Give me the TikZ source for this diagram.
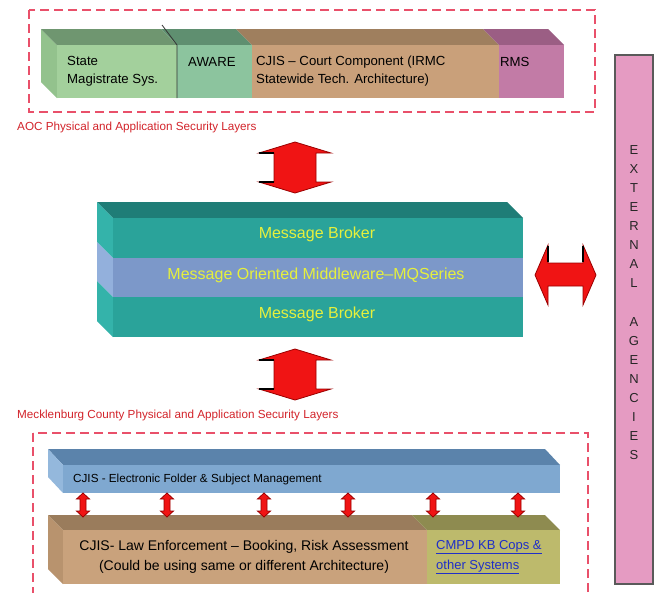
\documentclass[tikz,border=0pt]{standalone}
\usepackage{fontspec}
\setmainfont{Liberation Sans}
\definecolor{stateF}{HTML}{A3D09C}
\definecolor{stateT}{HTML}{6F9670}
\definecolor{stateS}{HTML}{93C28D}
\definecolor{awareF}{HTML}{8CC49E}
\definecolor{awareT}{HTML}{5F8F70}
\definecolor{cjisF}{HTML}{C9A07A}
\definecolor{cjisT}{HTML}{9F7F5E}
\definecolor{rmsF}{HTML}{C27BA6}
\definecolor{rmsT}{HTML}{9B5E84}
\definecolor{tealF}{HTML}{2AA39A}
\definecolor{tealT}{HTML}{1F7D77}
\definecolor{tealS}{HTML}{34B3AA}
\definecolor{bandF}{HTML}{7C98C9}
\definecolor{bandS}{HTML}{93B0DC}
\definecolor{ytxt}{HTML}{E6F03C}
\definecolor{blueF}{HTML}{7FA8D0}
\definecolor{blueT}{HTML}{5B83AB}
\definecolor{blueS}{HTML}{94B8DC}
\definecolor{leF}{HTML}{C9A27C}
\definecolor{leT}{HTML}{9A7C5C}
\definecolor{leS}{HTML}{B8936E}
\definecolor{cmpdF}{HTML}{BDBA6C}
\definecolor{cmpdT}{HTML}{8E8B50}
\definecolor{extF}{HTML}{E59BC2}
\definecolor{extD}{HTML}{5A5A5A}
\definecolor{labred}{HTML}{D2232A}
\definecolor{dashred}{HTML}{E9506A}
\definecolor{arrred}{HTML}{F01414}
\definecolor{arrdark}{HTML}{9A0000}
\definecolor{linkblue}{HTML}{1F2FC8}
\newcommand{\vdarrow}[6]{% cx, y1, y2, half shaft, half head, head length
  \draw[bigarr] (#1,#2) -- ({#1+#5},{#2+#6}) -- ({#1+#4},{#2+#6}) -- ({#1+#4},{#3-#6})
    -- ({#1+#5},{#3-#6}) -- (#1,#3) -- ({#1-#5},{#3-#6}) -- ({#1-#4},{#3-#6})
    -- ({#1-#4},{#2+#6}) -- ({#1-#5},{#2+#6}) -- cycle;}
\begin{document}
\begin{tikzpicture}[x=1pt,y=-1pt,
  secbox/.style={draw=dashred,line width=1.6pt,dash pattern=on 9pt off 5pt},
  seclabel/.style={text=labred,font=\fontsize{11.7}{13}\selectfont,anchor=west,inner sep=0pt},
  bartext/.style={font=\fontsize{13.2}{18}\selectfont,anchor=west,inner sep=0pt,align=left},
  mwtext/.style={text=ytxt,font=\fontsize{16}{18}\selectfont,inner sep=0pt},
  bigarr/.style={fill=arrred,draw=arrdark,line width=0.8pt,line join=miter},
  extletter/.style={font=\fontsize{13}{14}\selectfont,inner sep=0pt,text=black!85}]
\useasboundingbox (0,0) rectangle (655,592);
\clip (0,0) rectangle (655,592);

% ---------- top (AOC) ----------
\draw[secbox] (29,10) rectangle (595,112);
% side face
\fill[stateS] (41,29) -- (57,45) -- (57,98) -- (41,82) -- cycle;
% top faces
\fill[stateT] (41,29) -- (161,29) -- (177,45) -- (57,45) -- cycle;
\fill[awareT] (161,29) -- (236,29) -- (252,45) -- (177,45) -- cycle;
\fill[cjisT] (236,29) -- (483,29) -- (499,45) -- (252,45) -- cycle;
\fill[rmsT] (483,29) -- (548,29) -- (564,45) -- (499,45) -- cycle;
% front faces
\fill[stateF] (57,45) rectangle (177,98);
\fill[awareF] (177,45) rectangle (252,98);
\fill[cjisF] (252,45) rectangle (499,98);
\fill[rmsF] (499,45) rectangle (564,98);
\draw[black!80,line width=0.8pt] (162,25) -- (177,45) -- (177,98);
\node[bartext] (state) at (67,71) {State\\Magistrate Sys.};
\node[bartext] (aware) at (188,62) {AWARE};
\node[bartext] (cjisc) at (256,71) {CJIS -- Court Component (IRMC\\Statewide Tech. Architecture)};
\node[bartext] (rms) at (500,62) {RMS};
\node[seclabel] (aoclab) at (17,127) {AOC Physical and Application Security Layers};

% ---------- middleware ----------
\fill[tealT] (97,202) -- (507,202) -- (523,218) -- (113,218) -- cycle;
\fill[tealS] (97,202) -- (113,218) -- (113,258) -- (97,242) -- cycle;
\fill[bandS] (97,242) -- (113,258) -- (113,297) -- (97,281) -- cycle;
\fill[tealS] (97,281) -- (113,297) -- (113,337) -- (97,321) -- cycle;
\fill[tealF] (113,218) rectangle (523,258);
\fill[bandF] (113,258) rectangle (523,297);
\fill[tealF] (113,297) rectangle (523,337);
\node[mwtext] (mb1) at (317,234) {Message Broker};
\node[mwtext] (mom) at (316,275) {Message Oriented Middleware--MQSeries};
\node[mwtext] (mb2) at (317,314) {Message Broker};

% ---------- big arrows ----------
\vdarrow{295}{142}{193}{21}{36}{11}
\draw[black,line width=1.2pt] (259,153) -- (274,153) (259,182) -- (274,182);
\vdarrow{295}{349}{400}{21}{36}{11}
\draw[black,line width=1.2pt] (259,360) -- (274,360) (259,389) -- (274,389);
\draw[bigarr] (535,275) -- (548,245) -- (548,263) -- (583,263) -- (583,245) -- (596,275)
  -- (583,305) -- (583,286) -- (548,286) -- (548,305) -- cycle;
\draw[black,line width=1.2pt] (548,246) -- (548,262) (583,246) -- (583,262);

% ---------- external agencies ----------
\draw[fill=extF,draw=extD,line width=1.2pt] (615,55) rectangle (653,584);
\foreach \ch [count=\i from 0] in {E,X,T,E,R,N,A,L,{},A,G,E,N,C,I,E,S}{
  \node[extletter] (ext\i) at (634,{150+19.06*\i}) {\ch};
}

% ---------- bottom (Mecklenburg) ----------
\node[seclabel] (mecklab) at (17,415) {Mecklenburg County Physical and Application Security Layers};
\draw[secbox] (33,433) rectangle (588,620);
% blue bar
\fill[blueT] (48,449) -- (545,449) -- (560,465) -- (63,465) -- cycle;
\fill[blueS] (48,449) -- (63,465) -- (63,493) -- (48,477) -- cycle;
\fill[blueF] (63,465) rectangle (560,493);
\node[font=\fontsize{11.7}{13}\selectfont,anchor=west,inner sep=0pt] (efsm) at (73,479) {CJIS - Electronic Folder \& Subject Management};
% law enforcement bar
\fill[leT] (48,515) -- (412,515) -- (427,530) -- (63,530) -- cycle;
\fill[cmpdT] (412,515) -- (545,515) -- (560,530) -- (427,530) -- cycle;
\fill[leS] (48,515) -- (63,530) -- (63,584) -- (48,569) -- cycle;
\fill[leF] (63,530) rectangle (427,584);
\fill[cmpdF] (427,530) rectangle (560,584);
\node[font=\fontsize{14}{20}\selectfont,align=center,inner sep=0pt] (le) at (244,557) {CJIS- Law Enforcement -- Booking, Risk Assessment\\(Could be using same or different Architecture)};
\node[font=\fontsize{13}{20}\selectfont,align=left,anchor=west,inner sep=0pt,text=linkblue] (cmpd) at (436,557) {\underline{CMPD KB Cops \&}\\\underline{other Systems}};
% small double arrows
\foreach \xx in {83,167,264,348,433,518}{
  \vdarrow{\xx}{493}{517}{3}{6.5}{6}
}
\end{tikzpicture}
\end{document}
